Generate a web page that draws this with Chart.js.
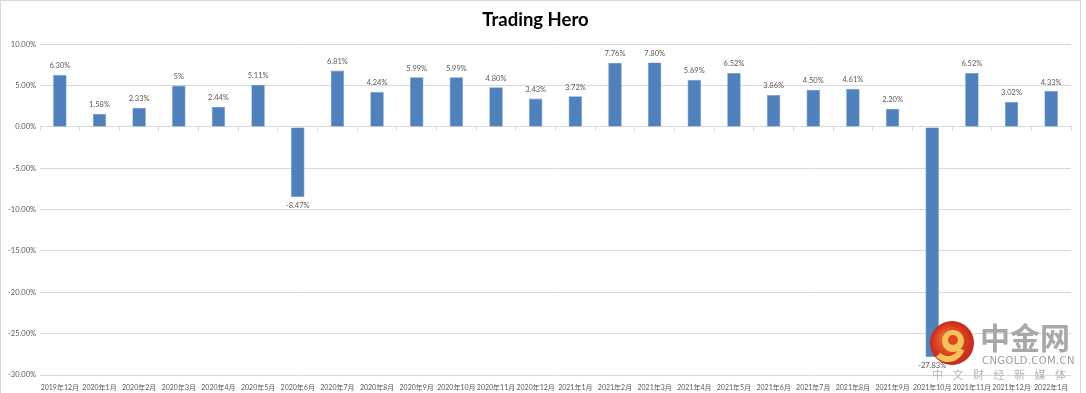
<!DOCTYPE html>
<html>
<head>
<meta charset="utf-8">
<script src="https://cdn.jsdelivr.net/npm/chart.js@4.4.1/dist/chart.umd.min.js"></script>
<style>
  html, body { margin: 0; padding: 0; background: #ffffff; }
  #wrap { position: relative; width: 1086px; height: 393px; }
</style>
</head>
<body>
<div id="wrap"><canvas id="c" width="1086" height="393"></canvas></div>
<script>
const categories = ['2019年12月','2020年1月','2020年2月','2020年3月','2020年4月','2020年5月','2020年6月','2020年7月','2020年8月','2020年9月','2020年10月','2020年11月','2020年12月','2021年1月','2021年2月','2021年3月','2021年4月','2021年5月','2021年6月','2021年7月','2021年8月','2021年9月','2021年10月','2021年11月','2021年12月','2022年1月'];
const returns = [6.30, 1.58, 2.33, 5, 2.44, 5.11, -8.47, 6.81, 4.24, 5.99, 5.99, 4.80, 3.43, 3.72, 7.76, 7.80, 5.69, 6.52, 3.86, 4.50, 4.61, 2.20, -27.83, 6.52, 3.02, 4.33];
const valueLabels = ['6.30%','1.58%','2.33%','5%','2.44%','5.11%','-8.47%','6.81%','4.24%','5.99%','5.99%','4.80%','3.43%','3.72%','7.76%','7.80%','5.69%','6.52%','3.86%','4.50%','4.61%','2.20%','-27.83%','6.52%','3.02%','4.33%'];
const yTicks = [10, 5, 0, -5, -10, -15, -20, -25, -30];
const chartTitle = 'Trading Hero';

const FONT = "Lato, 'Noto Sans CJK SC', sans-serif";
const TEXT = '#595959';
const GRID = '#d9d9d9';

const framePlugin = {
  id: 'frame',
  beforeDraw(chart) {
    const ctx = chart.ctx;
    ctx.save();
    ctx.fillStyle = '#ffffff';
    ctx.fillRect(0, 0, chart.width, chart.height);
    ctx.strokeStyle = GRID;
    ctx.lineWidth = 1;
    ctx.strokeRect(0.5, 0.5, chart.width - 6, chart.height + 5);
    ctx.restore();
  }
};

const watermarkPlugin = {
  id: 'watermark',
  afterDatasetsDraw(chart) {
    const ctx = chart.ctx;
    const a = chart.chartArea;
    const cx = a.right - 119, cy = a.bottom - 32, r = 22;
    ctx.save();
    const g = ctx.createRadialGradient(cx - 6, cy - 6, 4, cx, cy, r);
    g.addColorStop(0, '#f0642a');
    g.addColorStop(1, '#c8261a');
    ctx.fillStyle = g;
    ctx.beginPath();
    ctx.arc(cx, cy, r, 0, Math.PI * 2);
    ctx.fill();
    ctx.fillStyle = '#f6c25a';
    ctx.beginPath();
    ctx.arc(cx + 1, cy - 2, 11, 0, Math.PI * 2);
    ctx.fill();
    ctx.fillStyle = '#e2461f';
    ctx.beginPath();
    ctx.arc(cx + 1, cy - 3, 5, 0, Math.PI * 2);
    ctx.fill();
    ctx.strokeStyle = '#f6c25a';
    ctx.lineWidth = 6;
    ctx.beginPath();
    ctx.arc(cx - 4, cy + 2, 14, 0.1 * Math.PI, 0.75 * Math.PI);
    ctx.stroke();
    ctx.fillStyle = '#a8a8a8';
    ctx.textAlign = 'left';
    ctx.textBaseline = 'middle';
    ctx.font = "bold 30px 'Noto Sans CJK SC'";
    ctx.fillText('中金网', a.right - 91, a.bottom - 37);
    ctx.fillStyle = '#9c9c9c';
    ctx.font = "10px 'DejaVu Sans'";
    const s1 = 'CNGOLD.COM.CN';
    let x = a.right - 89;
    for (const ch of s1) { ctx.fillText(ch, x, a.bottom - 14); x += ctx.measureText(ch).width + 0.4; }
    ctx.fillStyle = '#b4b4b4';
    ctx.font = "11px 'Noto Sans CJK SC'";
    const s2 = '中文财经新媒体';
    x = a.right - 139;
    for (const ch of s2) { ctx.fillText(ch, x, a.bottom + 0); x += 20.5; }
    ctx.restore();
  }
};

const labelPlugin = {
  id: 'barLabels',
  afterDatasetsDraw(chart) {
    const ctx = chart.ctx;
    const meta = chart.getDatasetMeta(0);
    ctx.save();
    ctx.font = "7.5px " + FONT;
    ctx.fillStyle = TEXT;
    ctx.textAlign = 'center';
    ctx.textBaseline = 'middle';
    meta.data.forEach((bar, i) => {
      const v = returns[i];
      const y = v >= 0 ? bar.y - 9 : bar.y + 9;
      ctx.fillText(valueLabels[i], bar.x, y);
    });
    ctx.restore();
  }
};

new Chart(document.getElementById('c'), {
  type: 'bar',
  data: {
    labels: categories,
    datasets: [{
      data: returns,
      backgroundColor: '#4f81bd',
      borderColor: '#6b97cc',
      borderWidth: 0.6,
      barPercentage: 0.34,
      categoryPercentage: 1.0,
      xAxisID: 'x',
      yAxisID: 'y'
    }]
  },
  options: {
    responsive: false,
    animation: false,
    devicePixelRatio: 1,
    layout: { padding: { left: 0, right: 15, top: 0, bottom: 0 } },
    plugins: {
      legend: { display: false },
      tooltip: { enabled: false },
      title: {
        display: true,
        text: chartTitle,
        color: '#000000',
        font: { family: FONT, size: 18.5, weight: 'bold', lineHeight: 1.2 },
        padding: { top: 9, bottom: 13 }
      }
    },
    scales: {
      x: {
        type: 'category',
        position: 'bottom',
        offset: true,
        grid: { display: false },
        border: { display: false },
        ticks: {
          autoSkip: false, maxRotation: 0, minRotation: 0,
          color: TEXT, padding: 1,
          font: { family: FONT, size: 7, lineHeight: 1 }
        },
        afterFit(scale) { scale.height = 18; }
      },
      x0: {
        type: 'category',
        labels: categories,
        position: { y: 0 },
        offset: true,
        grid: { display: true, drawOnChartArea: false, drawTicks: true, tickLength: 4, color: GRID, offset: true },
        border: { display: true, color: GRID },
        ticks: { display: false }
      },
      y: {
        min: -30, max: 10,
        afterBuildTicks(scale) { scale.ticks = yTicks.map(v => ({ value: v })); },
        grid: { color: GRID, drawTicks: false },
        border: { display: false },
        ticks: {
          color: TEXT, padding: 4,
          font: { family: FONT, size: 7.5 },
          callback: (v) => Number(v).toFixed(2) + '%'
        },
        afterFit(scale) { scale.width = 40; }
      }
    }
  },
  plugins: [framePlugin, watermarkPlugin, labelPlugin]
});
</script>
</body>
</html>
